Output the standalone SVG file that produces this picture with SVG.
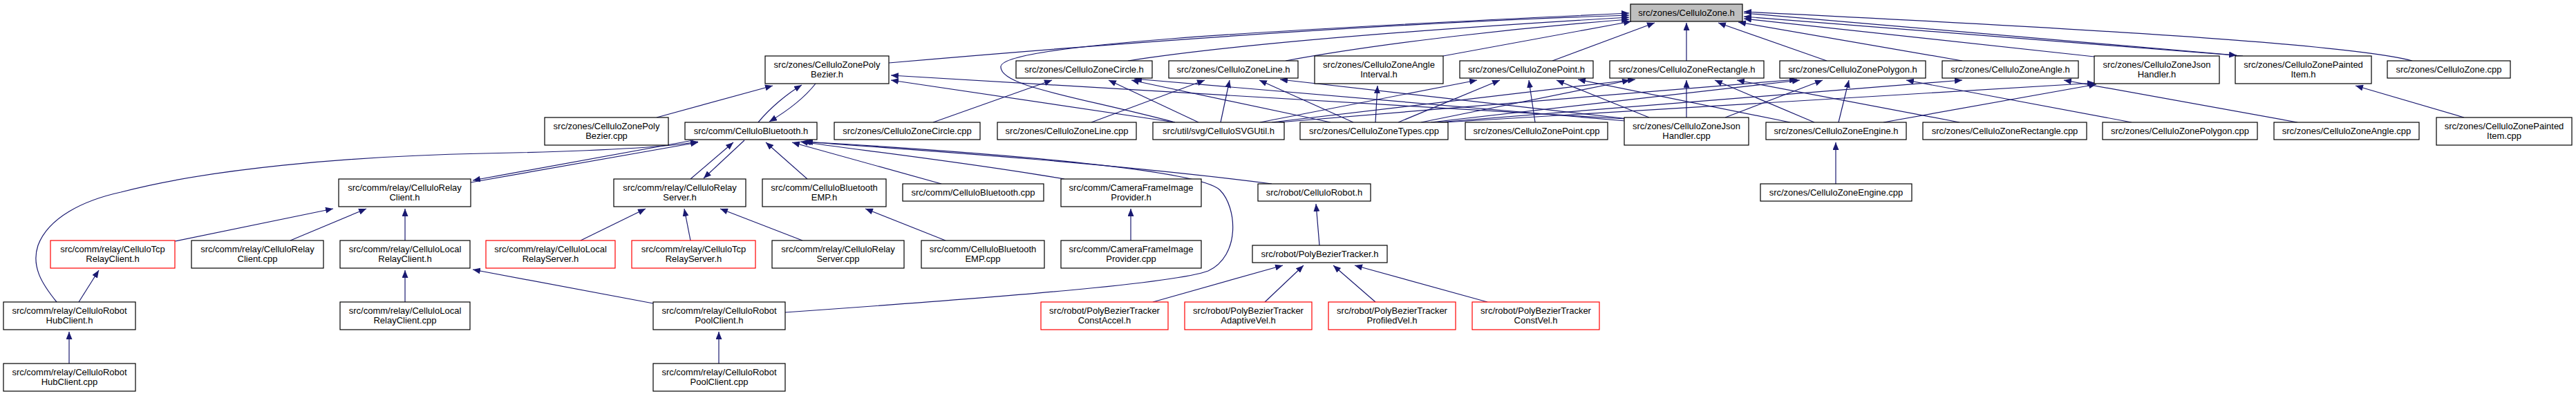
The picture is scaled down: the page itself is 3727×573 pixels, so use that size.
<svg xmlns="http://www.w3.org/2000/svg" width="3727" height="573" viewBox="0 0 3727 573">
<style>
.n rect{fill:#fff;stroke:#000;stroke-width:1.2}
.n.red rect{stroke:#f00}
.n.root rect{fill:#bfbfbf}
.n text{font-family:"Liberation Sans",Arial,sans-serif;font-size:13px;text-anchor:middle;fill:#000}
#edges path{fill:none;stroke:#191970;stroke-width:1.2;marker-end:url(#ah)}
</style>
<defs>
<marker id="ah" markerUnits="userSpaceOnUse" markerWidth="12" markerHeight="9" refX="11" refY="4.5" orient="auto" viewBox="0 0 12 9"><path d="M0,0 L11,4.5 L0,9 z" fill="#191970"/></marker>
</defs>
<rect width="3727" height="573" fill="#fff"/>
<g id="edges">
<path d="M1700,177 C1560,140 1445,125 1448,96 C1452,66 1800,45 2357,19"/>
<path d="M1286,91 C1700,55 2050,32 2357,22"/>
<path d="M1632,88 C1800,62 2100,40 2357,25"/>
<path d="M1860,88 C2000,62 2200,40 2357,28"/>
<path d="M2088,81 L2360,31"/>
<path d="M2246,88 L2394,33"/>
<path d="M2440,88 L2440,33"/>
<path d="M2643,88 L2486,33"/>
<path d="M2839,88 L2515,32"/>
<path d="M3030,82 L2523,27"/>
<path d="M3245,81 L2523,24"/>
<path d="M2523,19 L3236,80"/>
<path d="M3490,88 C3420,70 3200,50 2523,17"/>
<path d="M950,170 L1118,124"/>
<path d="M1097,177 C1115,155 1140,135 1160,123"/>
<path d="M1180,121 C1165,140 1140,160 1113,176"/>
<path d="M1700,177 L1289,116"/>
<path d="M2352,172 L1289,109"/>
<path d="M1350,177 L1522,116"/>
<path d="M1734,177 L1604,116"/>
<path d="M1925,177 L1637,116"/>
<path d="M2352,175 L1641,114"/>
<path d="M1579,177 L1743,116"/>
<path d="M1766,177 L1779,116"/>
<path d="M1958,177 L1822,116"/>
<path d="M2356,172 L1852,115"/>
<path d="M1990,177 L1993,124"/>
<path d="M1823,177 L2137,116"/>
<path d="M2023,177 L2170,116"/>
<path d="M2221,177 L2212,116"/>
<path d="M2386,170 L2252,116"/>
<path d="M2590,177 L2283,115"/>
<path d="M2056,177 L2358,116"/>
<path d="M1840,177 L2366,115"/>
<path d="M2440,170 L2440,116"/>
<path d="M2625,177 L2481,116"/>
<path d="M2835,177 L2513,116"/>
<path d="M1850,177 L2600,115"/>
<path d="M2070,177 L2604,116"/>
<path d="M2496,170 L2637,116"/>
<path d="M2660,177 L2675,116"/>
<path d="M3084,177 L2758,116"/>
<path d="M2080,177 L2839,116"/>
<path d="M3324,177 L2986,116"/>
<path d="M2725,177 L3033,122"/>
<path d="M2090,177 L3031,120"/>
<path d="M3565,170 L3408,124"/>
<path d="M681,264 L1010,206"/>
<path d="M1003,203 L684,261"/>
<path d="M82,437 C60,410 45,385 55,355 C70,315 120,290 175,278 C300,245 500,226 700,222 C850,219 960,214 1010,205"/>
<path d="M999,259 L1061,206"/>
<path d="M1077,203 L1018,258"/>
<path d="M1168,259 L1108,206"/>
<path d="M1362,266 L1146,206"/>
<path d="M1540,259 C1400,235 1250,218 1158,205"/>
<path d="M1840,266 C1600,235 1300,215 1162,205"/>
<path d="M1136,452 C1450,430 1700,410 1748,392 C1795,370 1790,300 1765,275 C1735,245 1450,222 1165,205"/>
<path d="M2656,266 L2656,206"/>
<path d="M253,349 L482,302"/>
<path d="M420,348 L530,302"/>
<path d="M586,348 L586,302"/>
<path d="M840,348 L934,302"/>
<path d="M999,348 L990,302"/>
<path d="M1161,348 L1042,302"/>
<path d="M1368,348 L1252,302"/>
<path d="M1636,348 L1636,302"/>
<path d="M1909,355 L1904,295"/>
<path d="M114,437 L143,391"/>
<path d="M586,437 L586,391"/>
<path d="M945,439 L684,390"/>
<path d="M1668,437 L1856,384"/>
<path d="M1830,437 L1886,384"/>
<path d="M1990,437 L1929,384"/>
<path d="M2152,437 L1960,384"/>
<path d="M100,526 L100,480"/>
<path d="M1040,526 L1040,480"/>
</g>
<g id="root" class="n root"><rect x="2359" y="6" width="162" height="25"/><text x="2440" y="22.5">src/zones/CelluloZone.h</text></g>
<g id="polybezh" class="n"><rect x="1107" y="81" width="179" height="40"/><text x="1196.5" y="97.5">src/zones/CelluloZonePoly</text><text x="1196.5" y="111.5">Bezier.h</text></g>
<g id="circleh" class="n"><rect x="1470" y="88" width="197" height="25"/><text x="1568.5" y="104.5">src/zones/CelluloZoneCircle.h</text></g>
<g id="lineh" class="n"><rect x="1691" y="88" width="187" height="25"/><text x="1784.5" y="104.5">src/zones/CelluloZoneLine.h</text></g>
<g id="angleinth" class="n"><rect x="1902" y="81" width="186" height="40"/><text x="1995" y="97.5">src/zones/CelluloZoneAngle</text><text x="1995" y="111.5">Interval.h</text></g>
<g id="pointh" class="n"><rect x="2112" y="88" width="193" height="25"/><text x="2208.5" y="104.5">src/zones/CelluloZonePoint.h</text></g>
<g id="recth" class="n"><rect x="2329" y="88" width="223" height="25"/><text x="2440.5" y="104.5">src/zones/CelluloZoneRectangle.h</text></g>
<g id="polygonh" class="n"><rect x="2575" y="88" width="211" height="25"/><text x="2680.5" y="104.5">src/zones/CelluloZonePolygon.h</text></g>
<g id="angleh" class="n"><rect x="2810" y="88" width="197" height="25"/><text x="2908.5" y="104.5">src/zones/CelluloZoneAngle.h</text></g>
<g id="jsonh" class="n"><rect x="3030" y="81" width="181" height="40"/><text x="3120.5" y="97.5">src/zones/CelluloZoneJson</text><text x="3120.5" y="111.5">Handler.h</text></g>
<g id="paintedh" class="n"><rect x="3234" y="81" width="197" height="40"/><text x="3332.5" y="97.5">src/zones/CelluloZonePainted</text><text x="3332.5" y="111.5">Item.h</text></g>
<g id="zonecpp" class="n"><rect x="3454" y="88" width="178" height="25"/><text x="3543" y="104.5">src/zones/CelluloZone.cpp</text></g>
<g id="polybezcpp" class="n"><rect x="788" y="170" width="179" height="40"/><text x="877.5" y="186.5">src/zones/CelluloZonePoly</text><text x="877.5" y="200.5">Bezier.cpp</text></g>
<g id="btooth" class="n"><rect x="991" y="177" width="191" height="25"/><text x="1086.5" y="193.5">src/comm/CelluloBluetooth.h</text></g>
<g id="circlecpp" class="n"><rect x="1207" y="177" width="211" height="25"/><text x="1312.5" y="193.5">src/zones/CelluloZoneCircle.cpp</text></g>
<g id="linecpp" class="n"><rect x="1443" y="177" width="201" height="25"/><text x="1543.5" y="193.5">src/zones/CelluloZoneLine.cpp</text></g>
<g id="svgutil" class="n"><rect x="1668" y="177" width="190" height="25"/><text x="1763" y="193.5">src/util/svg/CelluloSVGUtil.h</text></g>
<g id="typescpp" class="n"><rect x="1881" y="177" width="214" height="25"/><text x="1988" y="193.5">src/zones/CelluloZoneTypes.cpp</text></g>
<g id="pointcpp" class="n"><rect x="2120" y="177" width="206" height="25"/><text x="2223" y="193.5">src/zones/CelluloZonePoint.cpp</text></g>
<g id="jsoncpp" class="n"><rect x="2350" y="170" width="180" height="40"/><text x="2440" y="186.5">src/zones/CelluloZoneJson</text><text x="2440" y="200.5">Handler.cpp</text></g>
<g id="engineh" class="n"><rect x="2555" y="177" width="203" height="25"/><text x="2656.5" y="193.5">src/zones/CelluloZoneEngine.h</text></g>
<g id="rectcpp" class="n"><rect x="2782" y="177" width="237" height="25"/><text x="2900.5" y="193.5">src/zones/CelluloZoneRectangle.cpp</text></g>
<g id="polygoncpp" class="n"><rect x="3042" y="177" width="224" height="25"/><text x="3154" y="193.5">src/zones/CelluloZonePolygon.cpp</text></g>
<g id="anglecpp" class="n"><rect x="3290" y="177" width="210" height="25"/><text x="3395" y="193.5">src/zones/CelluloZoneAngle.cpp</text></g>
<g id="paintedcpp" class="n"><rect x="3525" y="170" width="196" height="40"/><text x="3623" y="186.5">src/zones/CelluloZonePainted</text><text x="3623" y="200.5">Item.cpp</text></g>
<g id="relayclienth" class="n"><rect x="490" y="259" width="191" height="40"/><text x="585.5" y="275.5">src/comm/relay/CelluloRelay</text><text x="585.5" y="289.5">Client.h</text></g>
<g id="relayserverh" class="n"><rect x="888" y="259" width="191" height="40"/><text x="983.5" y="275.5">src/comm/relay/CelluloRelay</text><text x="983.5" y="289.5">Server.h</text></g>
<g id="emph" class="n"><rect x="1103" y="259" width="179" height="40"/><text x="1192.5" y="275.5">src/comm/CelluloBluetooth</text><text x="1192.5" y="289.5">EMP.h</text></g>
<g id="btoothcpp" class="n"><rect x="1306" y="266" width="204" height="25"/><text x="1408" y="282.5">src/comm/CelluloBluetooth.cpp</text></g>
<g id="camerah" class="n"><rect x="1535" y="259" width="203" height="40"/><text x="1636.5" y="275.5">src/comm/CameraFrameImage</text><text x="1636.5" y="289.5">Provider.h</text></g>
<g id="roboth" class="n"><rect x="1820" y="266" width="163" height="25"/><text x="1901.5" y="282.5">src/robot/CelluloRobot.h</text></g>
<g id="enginecpp" class="n"><rect x="2547" y="266" width="219" height="25"/><text x="2656.5" y="282.5">src/zones/CelluloZoneEngine.cpp</text></g>
<g id="tcpclienth" class="n red"><rect x="73" y="348" width="180" height="40"/><text x="163" y="364.5">src/comm/relay/CelluloTcp</text><text x="163" y="378.5">RelayClient.h</text></g>
<g id="relayclientcpp" class="n"><rect x="277" y="348" width="191" height="40"/><text x="372.5" y="364.5">src/comm/relay/CelluloRelay</text><text x="372.5" y="378.5">Client.cpp</text></g>
<g id="localclienth" class="n"><rect x="492" y="348" width="188" height="40"/><text x="586" y="364.5">src/comm/relay/CelluloLocal</text><text x="586" y="378.5">RelayClient.h</text></g>
<g id="localserverh" class="n red"><rect x="703" y="348" width="187" height="40"/><text x="796.5" y="364.5">src/comm/relay/CelluloLocal</text><text x="796.5" y="378.5">RelayServer.h</text></g>
<g id="tcpserverh" class="n red"><rect x="914" y="348" width="179" height="40"/><text x="1003.5" y="364.5">src/comm/relay/CelluloTcp</text><text x="1003.5" y="378.5">RelayServer.h</text></g>
<g id="relayservercpp" class="n"><rect x="1117" y="348" width="191" height="40"/><text x="1212.5" y="364.5">src/comm/relay/CelluloRelay</text><text x="1212.5" y="378.5">Server.cpp</text></g>
<g id="empcpp" class="n"><rect x="1333" y="348" width="178" height="40"/><text x="1422" y="364.5">src/comm/CelluloBluetooth</text><text x="1422" y="378.5">EMP.cpp</text></g>
<g id="cameracpp" class="n"><rect x="1535" y="348" width="203" height="40"/><text x="1636.5" y="364.5">src/comm/CameraFrameImage</text><text x="1636.5" y="378.5">Provider.cpp</text></g>
<g id="trackerh" class="n"><rect x="1812" y="355" width="195" height="25"/><text x="1909.5" y="371.5">src/robot/PolyBezierTracker.h</text></g>
<g id="hubclienth" class="n"><rect x="5" y="437" width="191" height="40"/><text x="100.5" y="453.5">src/comm/relay/CelluloRobot</text><text x="100.5" y="467.5">HubClient.h</text></g>
<g id="localclientcpp" class="n"><rect x="492" y="437" width="188" height="40"/><text x="586" y="453.5">src/comm/relay/CelluloLocal</text><text x="586" y="467.5">RelayClient.cpp</text></g>
<g id="poolclienth" class="n"><rect x="945" y="437" width="191" height="40"/><text x="1040.5" y="453.5">src/comm/relay/CelluloRobot</text><text x="1040.5" y="467.5">PoolClient.h</text></g>
<g id="constaccel" class="n red"><rect x="1506" y="437" width="184" height="40"/><text x="1598" y="453.5">src/robot/PolyBezierTracker</text><text x="1598" y="467.5">ConstAccel.h</text></g>
<g id="adaptivevel" class="n red"><rect x="1714" y="437" width="184" height="40"/><text x="1806" y="453.5">src/robot/PolyBezierTracker</text><text x="1806" y="467.5">AdaptiveVel.h</text></g>
<g id="profiledvel" class="n red"><rect x="1922" y="437" width="184" height="40"/><text x="2014" y="453.5">src/robot/PolyBezierTracker</text><text x="2014" y="467.5">ProfiledVel.h</text></g>
<g id="constvel" class="n red"><rect x="2130" y="437" width="184" height="40"/><text x="2222" y="453.5">src/robot/PolyBezierTracker</text><text x="2222" y="467.5">ConstVel.h</text></g>
<g id="hubclientcpp" class="n"><rect x="5" y="526" width="191" height="40"/><text x="100.5" y="542.5">src/comm/relay/CelluloRobot</text><text x="100.5" y="556.5">HubClient.cpp</text></g>
<g id="poolclientcpp" class="n"><rect x="945" y="526" width="191" height="40"/><text x="1040.5" y="542.5">src/comm/relay/CelluloRobot</text><text x="1040.5" y="556.5">PoolClient.cpp</text></g>
</svg>
